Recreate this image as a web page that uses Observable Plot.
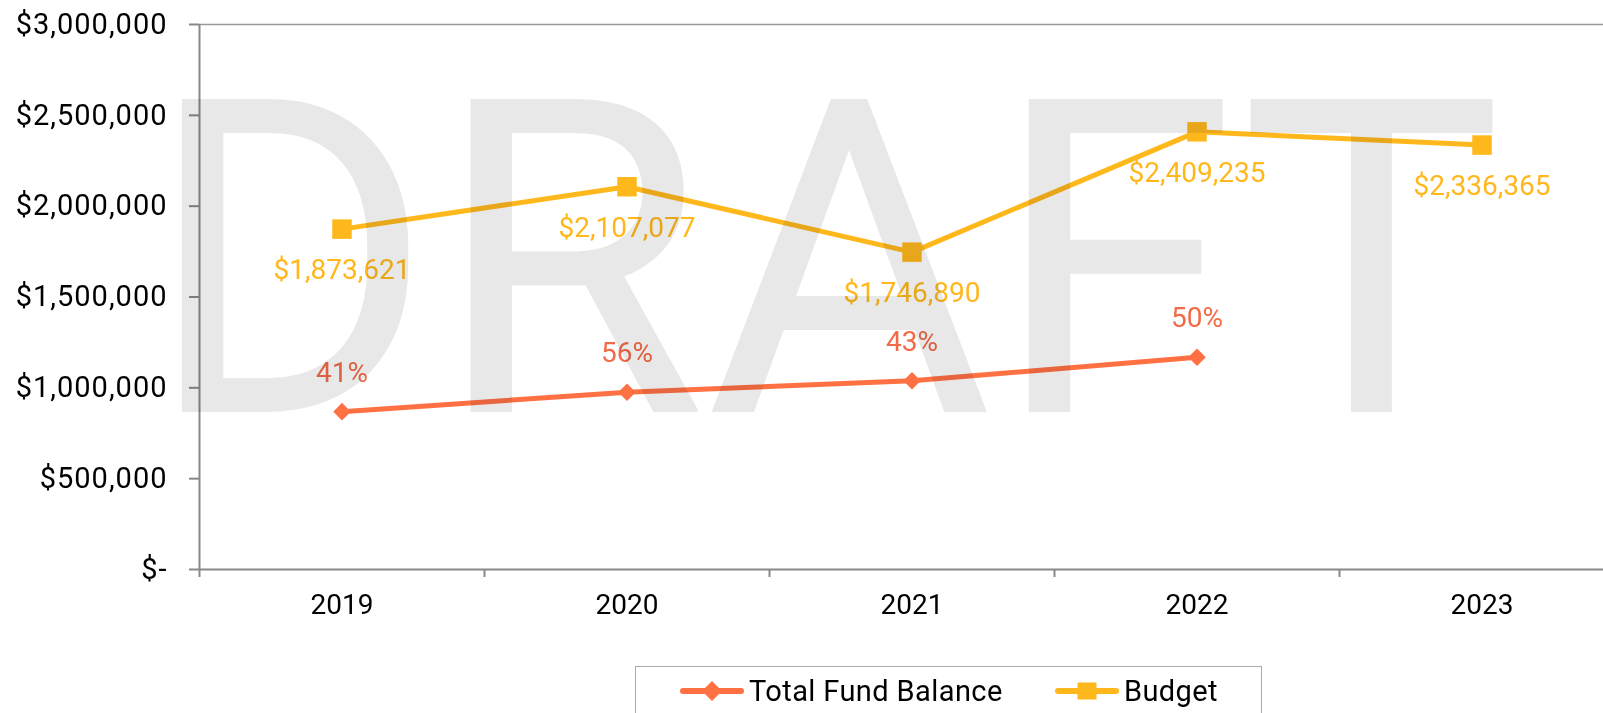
<!DOCTYPE html>
<html><head><meta charset="utf-8">
<script src="https://cdn.jsdelivr.net/npm/d3@7"></script>
<script src="https://cdn.jsdelivr.net/npm/@observablehq/plot@0.6"></script>
<style>
html,body{margin:0;padding:0;background:#fff;overflow:hidden;width:1603px;height:713px;}
#wrap{position:relative;width:1603px;height:713px;overflow:hidden;font-family:Roboto,sans-serif;}
#legend{position:absolute;left:635px;top:666px;width:627px;height:60px;border:1.5px solid #aaa;box-sizing:border-box;background:#fff;}
#legend svg{position:absolute;left:0;top:0;}
#chart g[aria-label="y-axis tick label"] text{letter-spacing:1px;}
</style></head>
<body><div id="wrap"><div id="chart"></div><div id="legend"></div></div>
<script>
const years = [2019, 2020, 2021, 2022, 2023];
const budget = [1873621, 2107077, 1746890, 2409235, 2336365];
const fundYears = [2019, 2020, 2021, 2022];
const fundBalance = [869000, 976000, 1039000, 1168000];
const fundPct = ["41%", "56%", "43%", "50%"];
const yTicks = [0, 500000, 1000000, 1500000, 2000000, 2500000, 3000000];
const seriesNames = ["Total Fund Balance", "Budget"];
const seriesColors = ["#FF7043", "#FFB81C"];
const labelColors = ["#F26A47", "#FFB71B"];
const watermark = "DRAFT";

const budgetData = years.map((year, i) => ({year, value: budget[i]}));
const fundData = fundYears.map((year, i) => ({year, value: fundBalance[i], pct: fundPct[i]}));
const bounds = [years[0] - 0.5, ...years.map(y => y + 0.5)];
const fmtMoney = d => d === 0 ? "$-" : "$" + d3.format(",")(d);

const chart = Plot.plot({
  width: 1624, height: 640,
  marginLeft: 199, marginRight: 0, marginTop: 24, marginBottom: 71,
  style: {fontFamily: "Roboto, sans-serif", background: "transparent", maxWidth: "none"},
  x: {type: "linear", domain: [bounds[0], bounds[bounds.length - 1]]},
  y: {domain: [0, 3000000]},
  marks: [
    Plot.ruleY([3000000], {stroke: "#999", strokeWidth: 1.5}),
    Plot.axisY({ticks: yTicks, tickSize: 10, tickPadding: 22, tickFormat: fmtMoney, fontSize: 29, stroke: "#888", strokeWidth: 2, fill: "#000", label: null}),
    Plot.axisX({ticks: bounds, tickSize: 8, tickFormat: () => "", stroke: "#888", strokeWidth: 2, label: null}),
    Plot.axisX({ticks: years, tickSize: 0, tickPadding: 25, tickFormat: d => String(d), fontSize: 28, fill: "#000", label: null}),
    Plot.ruleX([bounds[0]], {stroke: "#888", strokeWidth: 2}),
    Plot.ruleY([0], {stroke: "#888", strokeWidth: 2}),
    Plot.line(fundData, {x: "year", y: "value", stroke: seriesColors[0], strokeWidth: 5}),
    Plot.dot(fundData, {x: "year", y: "value", symbol: "square", rotate: 45, fill: seriesColors[0], r: 7}),
    Plot.text(fundData, {x: "year", y: "value", text: "pct", dy: -39, fill: labelColors[0], fontSize: 28}),
    Plot.line(budgetData, {x: "year", y: "value", stroke: seriesColors[1], strokeWidth: 5}),
    Plot.dot(budgetData, {x: "year", y: "value", symbol: "square", fill: seriesColors[1], r: 11}),
    Plot.text(budgetData, {x: "year", y: "value", text: d => fmtMoney(d.value), dy: 41, fill: labelColors[1], fontSize: 28}),
    Plot.text([watermark], {frameAnchor: "top", dx: -88, dy: 75, lineAnchor: "top", fontSize: 440, fill: "#e8e8e8", mixBlendMode: "multiply"})
  ]
});
document.getElementById("chart").appendChild(chart);

// legend
const legend = document.getElementById("legend");
const lineStart = [44, 419];
const cy = 24;
let svg = `<svg width="627" height="60" font-family="Roboto, sans-serif">`;
seriesNames.forEach((name, i) => {
  const x0 = lineStart[i], x1 = x0 + 64, xm = (x0 + x1) / 2;
  svg += `<line x1="${x0 + 3}" y1="${cy}" x2="${x1 - 3}" y2="${cy}" stroke="${seriesColors[i]}" stroke-width="6" stroke-linecap="round"/>`;
  svg += i === 0
    ? `<path d="M${xm},${cy - 10} L${xm + 10},${cy} L${xm},${cy + 10} L${xm - 10},${cy} Z" fill="${seriesColors[i]}"/>`
    : `<rect x="${xm - 9.5}" y="${cy - 8.5}" width="19" height="17" fill="${seriesColors[i]}"/>`;
  svg += `<text x="${x1 + 5}" y="${cy}" dy="0.35em" font-size="29" letter-spacing="0.4" fill="#000">${name}</text>`;
});
svg += `</svg>`;
legend.innerHTML = svg;
</script>
</body></html>
